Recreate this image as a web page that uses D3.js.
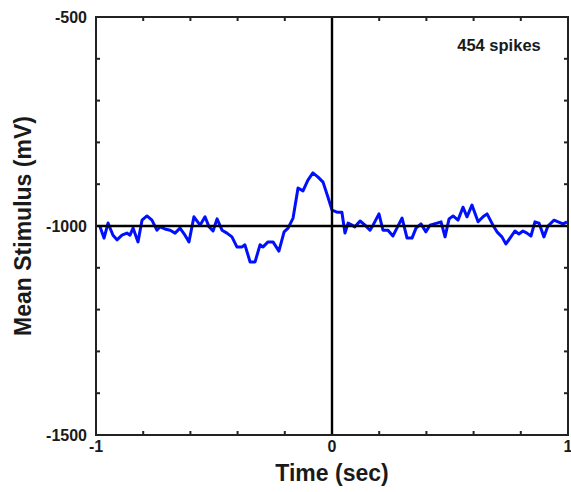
<!DOCTYPE html>
<html><head><meta charset="utf-8">
<script src="https://cdn.jsdelivr.net/npm/d3@7"></script>
<style>body{margin:0;background:#fff}svg{display:block}text{font-family:"Liberation Sans",Arial,sans-serif;font-weight:bold;fill:#1a1a1a}</style>
</head><body>
<script>
const times = [-0.983,-0.966,-0.949,-0.928,-0.911,-0.890,-0.869,-0.856,-0.843,-0.822,-0.805,-0.784,-0.763,-0.742,-0.729,-0.708,-0.686,-0.665,-0.644,-0.623,-0.606,-0.585,-0.559,-0.538,-0.521,-0.504,-0.487,-0.466,-0.445,-0.424,-0.403,-0.381,-0.369,-0.347,-0.326,-0.305,-0.292,-0.271,-0.250,-0.225,-0.203,-0.186,-0.165,-0.144,-0.123,-0.102,-0.081,-0.059,-0.038,-0.017,0.000,0.021,0.042,0.055,0.068,0.085,0.097,0.119,0.140,0.161,0.174,0.199,0.216,0.237,0.258,0.275,0.297,0.318,0.339,0.356,0.377,0.398,0.415,0.445,0.462,0.479,0.496,0.513,0.534,0.555,0.572,0.593,0.619,0.640,0.657,0.682,0.699,0.720,0.737,0.758,0.775,0.792,0.809,0.826,0.843,0.860,0.877,0.898,0.915,0.941,0.958,0.979,0.996];
const values = [-1002,-1029,-993,-1022,-1033,-1022,-1017,-1022,-1005,-1038,-986,-976,-986,-1010,-1002,-1007,-1010,-1017,-1005,-1022,-1038,-978,-998,-978,-1002,-1012,-983,-1010,-1017,-1026,-1050,-1050,-1045,-1086,-1086,-1045,-1050,-1038,-1038,-1060,-1014,-1005,-981,-909,-916,-890,-873,-883,-895,-931,-962,-967,-967,-1017,-993,-998,-1002,-988,-998,-1010,-998,-971,-1010,-1010,-1024,-1005,-981,-1029,-1029,-1005,-995,-1014,-998,-993,-990,-1026,-983,-976,-986,-955,-978,-950,-990,-978,-971,-998,-1014,-1026,-1043,-1026,-1012,-1019,-1012,-1017,-1024,-990,-993,-1026,-1000,-986,-990,-995,-990];
const xTickLabels = [-1, 0, 1];
const yTickLabels = [-500, -1000, -1500];
const xMinorTicks = [-0.8,-0.6,-0.4,-0.2,0.2,0.4,0.6,0.8];
const yMinorTicks = [-600,-700,-800,-900,-1100,-1200,-1300,-1400];
const spikeLabel = "454 spikes";

const W = 571, H = 492;
const L = 96, R = 568, T = 17, B = 435;
const svg = d3.select("body").append("svg").attr("width", W).attr("height", H);
const x = d3.scaleLinear().domain([-1, 1]).range([L, R]);
const y = d3.scaleLinear().domain([-1500, -500]).range([B, T]);

// minor ticks (inward)
const tk = 4;
xMinorTicks.forEach(t => {
  svg.append("line").attr("x1", x(t)).attr("x2", x(t)).attr("y1", B).attr("y2", B - tk).attr("stroke", "#222").attr("stroke-width", 2);
  svg.append("line").attr("x1", x(t)).attr("x2", x(t)).attr("y1", T).attr("y2", T + tk).attr("stroke", "#222").attr("stroke-width", 2);
});
yMinorTicks.forEach(v => {
  svg.append("line").attr("x1", L).attr("x2", L + tk).attr("y1", y(v)).attr("y2", y(v)).attr("stroke", "#222").attr("stroke-width", 2);
  svg.append("line").attr("x1", R).attr("x2", R - tk).attr("y1", y(v)).attr("y2", y(v)).attr("stroke", "#222").attr("stroke-width", 2);
});

// data line
const line = d3.line().x((d, i) => x(times[i])).y(d => y(d));
svg.append("path").datum(values).attr("d", line).attr("fill", "none")
  .attr("stroke", "#0010ff").attr("stroke-width", 3).attr("stroke-linejoin", "round");

// zero lines
svg.append("line").attr("x1", x(0)).attr("x2", x(0)).attr("y1", T).attr("y2", B).attr("stroke", "#000").attr("stroke-width", 2.4);
svg.append("line").attr("x1", L).attr("x2", R).attr("y1", y(-1000)).attr("y2", y(-1000)).attr("stroke", "#000").attr("stroke-width", 2.4);

// frame
svg.append("rect").attr("x", L).attr("y", T).attr("width", R - L).attr("height", B - T)
  .attr("fill", "none").attr("stroke", "#222").attr("stroke-width", 2);

// tick labels
svg.selectAll(".yl").data(yTickLabels).enter().append("text")
  .attr("x", L - 9).attr("y", d => y(d) + 6).attr("text-anchor", "end")
  .attr("font-size", 16).text(d => d);
svg.selectAll(".xl").data(xTickLabels).enter().append("text")
  .attr("x", d => x(d)).attr("y", B + 17).attr("text-anchor", "middle")
  .attr("font-size", 16).text(d => d);

// axis titles
svg.append("text").attr("x", x(0)).attr("y", 481).attr("text-anchor", "middle")
  .attr("font-size", 23).text("Time (sec)");
svg.append("text").attr("transform", `translate(31,${y(-1000)}) rotate(-90)`)
  .attr("text-anchor", "middle").attr("font-size", 23).text("Mean Stimulus (mV)");

svg.append("text").attr("x", 499).attr("y", 51).attr("text-anchor", "middle")
  .attr("font-size", 16.5).text(spikeLabel);
</script>
</body></html>
